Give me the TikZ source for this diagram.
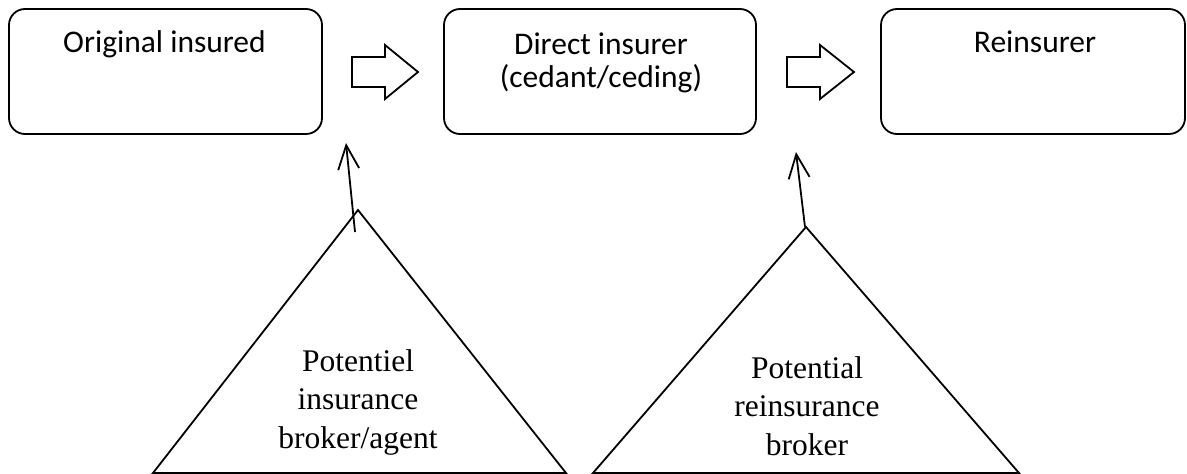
\documentclass[tikz,border=0pt]{standalone}
\usepackage{fontspec}
\setmainfont{Liberation Serif}
\newfontfamily\calib{Carlito}
\usetikzlibrary{arrows.meta}
\begin{document}
\begin{tikzpicture}[x=1pt,y=-1pt,
  box/.style={draw, line width=1.8pt, rounded corners=16pt, inner sep=0pt},
  boxlbl/.style={font=\calib\fontsize{31.5}{33}\selectfont, align=center, inner sep=0pt},
  trilbl/.style={font=\fontsize{31.5}{38.5}\selectfont, align=center, inner sep=0pt},
  tri/.style={draw, line width=1.8pt, line join=miter},
  blockarrow/.style={draw, line width=1.8pt, line join=miter},
  link/.style={draw, line width=1.8pt, -{Straight Barb[length=24pt,width=21pt,line width=1.8pt]}}]
\useasboundingbox (0,0) rectangle (1187,474);
% boxes
\node[box, minimum width=313pt, minimum height=125pt] (b1) at (165.5,71.5) {};
\node[box, minimum width=312pt, minimum height=125pt] (b2) at (600,71.5) {};
\node[box, minimum width=304pt, minimum height=125pt] (b3) at (1033,71.5) {};
\node[boxlbl, anchor=base] (t1) at ([xshift=-1pt,yshift=-44pt]b1.north) {Original insured};
\node[boxlbl, anchor=base] (t2) at ([xshift=1pt,yshift=-79pt]b2.north) {Direct insurer\\(cedant/ceding)};
\node[boxlbl, anchor=base] (t3) at ([xshift=2pt,yshift=-44pt]b3.north) {Reinsurer};
% block arrows
\draw[blockarrow] (352,57) -- (385,57) -- (385,45) -- (418,72) -- (385,99) -- (385,87) -- (352,87) -- cycle;
\draw[blockarrow] (787,57) -- (820,57) -- (820,45) -- (854,72) -- (820,99) -- (820,87) -- (787,87) -- cycle;
% triangles
\coordinate (a1) at (358,210);
\coordinate (a2) at (806,227);
\draw[tri] (a1) -- (566,473) -- (153,473) -- cycle;
\draw[tri] (a2) -- (1019,473) -- (593,473) -- cycle;
\node[trilbl, anchor=base] (p1) at (358,448) {Potentiel\\insurance\\broker/agent};
\node[trilbl, anchor=base] (p2) at (807,455) {Potential\\reinsurance\\broker};
% thin arrows
\coordinate (s1) at (355,232);
\coordinate (e1) at (346,143);
\coordinate (s2) at (805,227);
\coordinate (e2) at (796,152);
\draw[link] (s1) -- (e1);
\draw[link] (s2) -- (e2);
\end{tikzpicture}
\end{document}
